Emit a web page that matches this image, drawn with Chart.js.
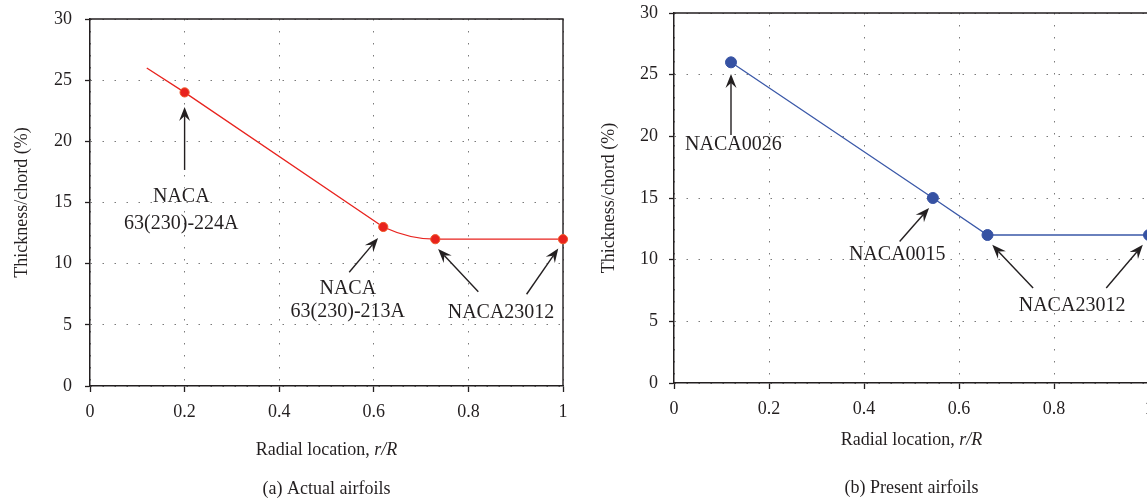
<!DOCTYPE html>
<html>
<head>
<meta charset="utf-8">
<title>Airfoil thickness distribution</title>
<script src="https://cdn.jsdelivr.net/npm/chart.js@4"></script>
<style>
  body { margin: 0; background: #fff; }
  #page { position: relative; width: 1147px; height: 500px; overflow: hidden; }
  #page canvas { position: absolute; top: 0; }
  #actualChart { left: 0; }
  #presentChart { left: 590px; }
</style>
</head>
<body>
<div id="page">
  <canvas id="actualChart" width="590" height="500"></canvas>
  <canvas id="presentChart" width="570" height="500"></canvas>
</div>
<script>
// (a) actual airfoils, radial location vs thickness/chord
const actualR = [0.12, 0.2, 0.62, 0.73, 1];
const actualThickness = [26, 24, 13, 12, 12];
const actualMarked = [false, true, true, true, true];

// (b) present airfoils
const presentR = [0.12, 0.545, 0.66, 1];
const presentThickness = [26, 15, 12, 12];

// axis ticks
const xTicks = [0, 0.2, 0.4, 0.6, 0.8, 1];
const yTicks = [0, 5, 10, 15, 20, 25, 30];

const FONT = '"Liberation Serif", "Times New Roman", serif';
const INK = '#231f20';
const GRID = '#7a7a7a';
const RED = '#e8231e';

// arrow with a notched head, tail -> tip in pixels
function drawArrow(ctx, x1, y1, x2, y2) {
    const ang = Math.atan2(y2 - y1, x2 - x1);
    const len = 14, wing = 5.5, notch = 9;
    ctx.save();
    ctx.strokeStyle = INK;
    ctx.fillStyle = INK;
    ctx.lineWidth = 1.4;
    ctx.beginPath();
    ctx.moveTo(x1, y1);
    ctx.lineTo(x2 - Math.cos(ang) * notch, y2 - Math.sin(ang) * notch);
    ctx.stroke();
    ctx.translate(x2, y2);
    ctx.rotate(ang);
    ctx.beginPath();
    ctx.moveTo(0, 0);
    ctx.lineTo(-len, -wing);
    ctx.lineTo(-notch, 0);
    ctx.lineTo(-len, wing);
    ctx.closePath();
    ctx.fill();
    ctx.restore();
}

const decorPlugin = {
    id: 'decor',
    beforeDatasetsDraw(chart) {
        // closing frame on top and right
        const {ctx, chartArea: a} = chart;
        ctx.save();
        ctx.strokeStyle = INK;
        ctx.lineWidth = 1.4;
        ctx.beginPath();
        ctx.moveTo(a.left, a.top);
        ctx.lineTo(a.right, a.top);
        ctx.lineTo(a.right, a.bottom);
        ctx.stroke();
        ctx.restore();
    },
    afterDraw(chart, args, opts) {
        const {ctx, chartArea: a, scales: {x, y}} = chart;
        ctx.save();
        ctx.fillStyle = INK;
        ctx.textAlign = 'center';
        ctx.textBaseline = 'middle';
        ctx.font = '20px ' + FONT;
        opts.notes.forEach(n => {
            n.lines.forEach((t, i) => {
                ctx.fillText(t, x.getPixelForValue(n.x), y.getPixelForValue(n.y[i]));
            });
            n.arrows.forEach(p => {
                drawArrow(ctx, x.getPixelForValue(p[0]), y.getPixelForValue(p[1]),
                               x.getPixelForValue(p[2]), y.getPixelForValue(p[3]));
            });
        });

        // x axis title, r/R in italics
        const cx = (a.left + a.right) / 2;
        const plain = 'Radial location, ';
        const ital = 'r/R';
        ctx.font = '18px ' + FONT;
        const w1 = ctx.measureText(plain).width;
        ctx.font = 'italic 18px ' + FONT;
        const w2 = ctx.measureText(ital).width;
        const sx = cx - (w1 + w2) / 2;
        ctx.textAlign = 'left';
        ctx.font = '18px ' + FONT;
        ctx.fillText(plain, sx, opts.titleY);
        ctx.font = 'italic 18px ' + FONT;
        ctx.fillText(ital, sx + w1, opts.titleY);

        // caption
        ctx.textAlign = 'center';
        ctx.font = '18px ' + FONT;
        ctx.fillText(opts.caption, cx, opts.captionY);
        ctx.restore();
    }
};

// no extra room for overhanging tick labels, the layout padding already has it
function noOverhang(s) {
    s.paddingTop = 0;
    s.paddingBottom = 0;
    s.paddingLeft = 0;
    s.paddingRight = 0;
}

function makeScales(yWidth, xHeight, yTitlePad, yTickPad) {
    return {
        x: {
            type: 'linear', min: 0, max: 1,
            afterBuildTicks: s => { s.ticks = xTicks.map(v => ({value: v})); },
            afterFit: s => { s.height = xHeight; noOverhang(s); },
            grid: {color: GRID, lineWidth: 1, tickLength: 6, tickColor: INK, tickWidth: 1.3},
            border: {color: INK, width: 1.5, dash: [1.5, 10.5]},
            ticks: {color: INK, font: {family: FONT, size: 18}, padding: 9, maxRotation: 0,
                    callback: v => String(v)}
        },
        y: {
            type: 'linear', min: 0, max: 30,
            afterBuildTicks: s => { s.ticks = yTicks.map(v => ({value: v})); },
            afterFit: s => { s.width = yWidth; noOverhang(s); },
            grid: {color: GRID, lineWidth: 1, tickLength: 5, tickColor: INK, tickWidth: 1.3},
            border: {color: INK, width: 1.5, dash: [1.5, 10.5]},
            ticks: {color: INK, font: {family: FONT, size: 18}, padding: yTickPad,
                    callback: v => String(v)},
            title: {display: true, text: 'Thickness/chord (%)', color: INK,
                    font: {family: FONT, size: 18}, padding: {top: yTitlePad, bottom: 0}}
        }
    };
}

function pts(xs, ys, from, to) {
    const out = [];
    for (let i = from; i <= to; i++) out.push({x: xs[i], y: ys[i]});
    return out;
}

// chart (a)
new Chart(document.getElementById('actualChart'), {
    type: 'line',
    data: {
        datasets: [
            {   // markers
                data: pts(actualR, actualThickness, 0, actualR.length - 1),
                showLine: false,
                pointRadius: actualMarked.map(m => m ? 4.6 : 0),
                pointBackgroundColor: '#e8221d',
                pointBorderColor: '#f0582a',
                pointBorderWidth: 1,
                clip: false
            },
            {   // straight inboard part
                data: pts(actualR, actualThickness, 0, 2),
                borderColor: RED,
                borderWidth: 1.3,
                pointRadius: 0
            },
            {   // smooth blend into the tip section (first segment hidden, only sets the tangent)
                data: pts(actualR, actualThickness, 1, actualR.length - 1),
                borderColor: RED,
                borderWidth: 1.3,
                pointRadius: 0,
                cubicInterpolationMode: 'monotone',
                segment: {borderColor: c => c.p0DataIndex === 0 ? 'rgba(0,0,0,0)' : RED}
            }
        ]
    },
    options: {
        responsive: false,
        devicePixelRatio: 1,
        animation: false,
        layout: {autoPadding: false, padding: {left: 0, top: 19, right: 27, bottom: 0}},
        scales: makeScales(90, 114, 11, 13),
        plugins: {
            legend: {display: false},
            tooltip: {enabled: false},
            decor: {
                titleY: 450,
                caption: '(a) Actual airfoils',
                captionY: 489,
                notes: [
                    {lines: ['NACA', '63(230)-224A'], x: 0.193, y: [15.5, 13.3],
                     arrows: [[0.2, 17.66, 0.2, 22.8]]},
                    {lines: ['NACA', '63(230)-213A'], x: 0.545, y: [7.95, 6.1],
                     arrows: [[0.548, 9.3, 0.609, 12.1]]},
                    {lines: ['NACA23012'], x: 0.869, y: [6.0],
                     arrows: [[0.821, 7.7, 0.736, 11.2], [0.923, 7.5, 0.99, 11.25]]}
                ]
            }
        }
    },
    plugins: [decorPlugin]
});

// chart (b)
new Chart(document.getElementById('presentChart'), {
    type: 'line',
    data: {
        datasets: [
            {
                data: pts(presentR, presentThickness, 0, presentR.length - 1),
                borderColor: '#3a58a8',
                borderWidth: 1.3,
                pointRadius: 5.5,
                pointBackgroundColor: '#3652a3',
                pointBorderColor: '#3652a3',
                pointBorderWidth: 1,
                clip: false
            }
        ]
    },
    options: {
        responsive: false,
        devicePixelRatio: 1,
        animation: false,
        layout: {autoPadding: false, padding: {left: 0, top: 13, right: 11, bottom: 0}},
        scales: makeScales(84, 117, 8, 11),
        plugins: {
            legend: {display: false},
            tooltip: {enabled: false},
            decor: {
                titleY: 440,
                caption: '(b) Present airfoils',
                captionY: 488,
                notes: [
                    {lines: ['NACA0026'], x: 0.125, y: [19.33],
                     arrows: [[0.12, 20.1, 0.12, 25.05]]},
                    {lines: ['NACA0015'], x: 0.47, y: [10.36],
                     arrows: [[0.475, 11.48, 0.537, 14.19]]},
                    {lines: ['NACA23012'], x: 0.838, y: [6.27],
                     arrows: [[0.756, 7.7, 0.67, 11.2], [0.91, 7.7, 0.987, 11.2]]}
                ]
            }
        }
    },
    plugins: [decorPlugin]
});
</script>
</body>
</html>
